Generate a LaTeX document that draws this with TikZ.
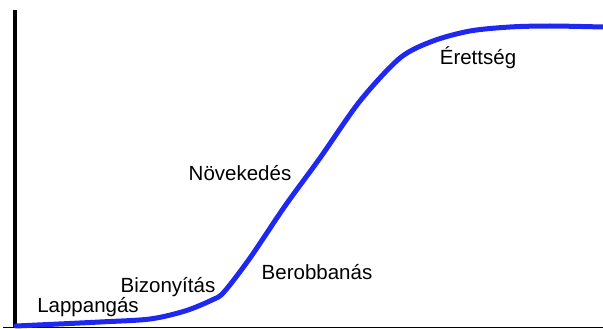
\documentclass[tikz,border=0pt]{standalone}
\usepackage{fontspec}
\setmainfont{Liberation Sans}
\usepackage{xcolor}
\definecolor{curveblue}{RGB}{30,40,240}
\begin{document}
\begin{tikzpicture}[
    x=1pt, y=-1pt,
    font=\fontsize{20.5}{24}\selectfont,
    axis/.style={black, line cap=butt},
    scurve/.style={curveblue, line width=5pt, line cap=round, line join=round},
    phase/.style={inner sep=0pt, anchor=center},
  ]
    \useasboundingbox (0,0) rectangle (603,329);

    % axes
    \draw[axis, line width=3.5pt] (15,10) -- (15,327.5);
    \draw[axis, line width=1.5pt] (3,327.5) -- (603,327.5);

    % growth curve
    \draw[scurve] plot[smooth, tension=0.5] coordinates {
        (16,326) (100,322) (150,319) (185,311) (212,300)
        (224,292) (250,258) (285,206) (320,158) (360,101)
        (400,58) (433,41) (470,31) (510,27) (550,26) (603,27)};

    % phases
    \node[phase] (lappang)  at (88,307)  {Lappangás};
    \node[phase] (bizony)   at (168,287) {Bizonyítás};
    \node[phase] (berobban) at (317,272) {Berobbanás};
    \node[phase] (noveked)  at (240,173) {Növekedés};
    \node[phase] (erett)    at (478,58)  {Érettség};
\end{tikzpicture}
\end{document}
